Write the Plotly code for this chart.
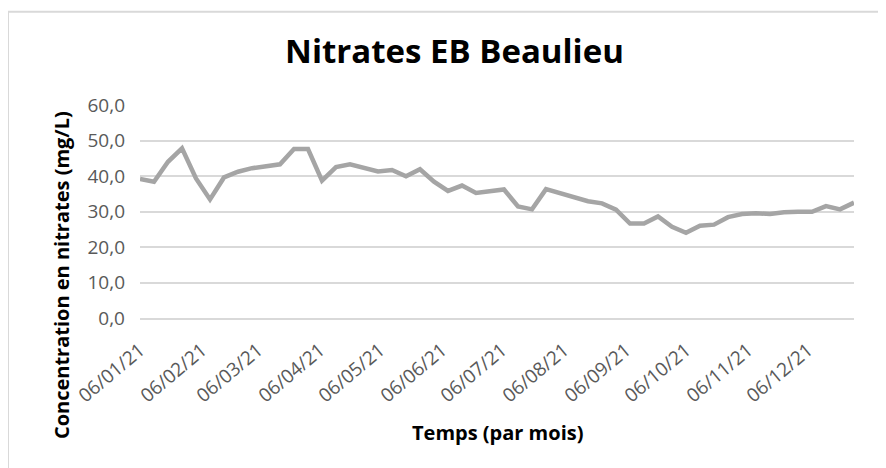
import plotly.graph_objects as go

dates = [
    "2021-01-06", "2021-01-13", "2021-01-20", "2021-01-27",
    "2021-02-03", "2021-02-10", "2021-02-17", "2021-02-24",
    "2021-03-03", "2021-03-10", "2021-03-17", "2021-03-24", "2021-03-31",
    "2021-04-07", "2021-04-14", "2021-04-21", "2021-04-28",
    "2021-05-05", "2021-05-12", "2021-05-19", "2021-05-26",
    "2021-06-02", "2021-06-09", "2021-06-16", "2021-06-23", "2021-06-30",
    "2021-07-07", "2021-07-14", "2021-07-21", "2021-07-28",
    "2021-08-04", "2021-08-11", "2021-08-18", "2021-08-25",
    "2021-09-01", "2021-09-08", "2021-09-15", "2021-09-22", "2021-09-29",
    "2021-10-06", "2021-10-13", "2021-10-20", "2021-10-27",
    "2021-11-03", "2021-11-10", "2021-11-17", "2021-11-24",
    "2021-12-01", "2021-12-08", "2021-12-15", "2021-12-22", "2021-12-29",
]

nitrates = [
    39.2, 38.4, 44.0, 47.8,
    39.3, 33.4, 39.6, 41.2,
    42.2, 42.9, 43.3, 47.6, 47.6,
    38.7, 42.5, 43.3, 42.2,
    41.3, 41.7, 39.9, 41.9,
    38.4, 35.8, 37.3, 35.2, 35.6,
    36.2, 31.4, 30.6, 36.3,
    35.1, 34.1, 32.9, 32.3,
    30.5, 26.6, 26.6, 28.6, 25.7,
    24.0, 26.0, 26.3, 28.4,
    29.3, 29.5, 29.3, 29.8,
    29.9, 29.9, 31.5, 30.6, 32.5,
]

title_text = "Nitrates EB Beaulieu"
y_title = "Concentration en nitrates (mg/L)"
x_title = "Temps (par mois)"

W, H = 886, 468
OFF = 8  # page body margin offset in the screenshot
# target plot area in screen pixels
SX0, SX1, SY0, SY1 = 140, 854, 104.5, 318
L, R = SX0 - OFF, W - (SX1 - OFF)
T, B = SY0 - OFF, H - (SY1 - OFF)
pw, ph = W - L - R, H - T - B


def px(x):
    return (x - OFF - L) / pw


def py(y):
    return (H - B - (y - OFF)) / ph


fig = go.Figure()
fig.add_trace(go.Scatter(
    x=dates, y=nitrates, mode="lines",
    line=dict(color="#a5a5a5", width=4.5),
    hoverinfo="x+y", showlegend=False,
))

FONT = "Open Sans"

fig.update_layout(
    width=W, height=H,
    margin=dict(l=L, r=R, t=T, b=B),
    paper_bgcolor="white", plot_bgcolor="white",
    separators=", ",
    font=dict(family=FONT, color="#595959"),
    title=dict(
        text="<b>" + title_text + "</b>",
        font=dict(family=FONT, size=33, color="black"),
        x=(454.5 - OFF) / W, xref="container", xanchor="center",
        y=1 - (51 - OFF) / H, yref="container", yanchor="middle",
    ),
    xaxis=dict(
        type="date",
        range=["2021-01-06", "2021-12-29"],
        tick0="2021-01-06", dtick="M1", tickformat="%d/%m/%y",
        tickangle=-40,
        tickfont=dict(family=FONT, size=19, color="#595959"),
        showgrid=False, zeroline=False,
        showline=True, linecolor="#d9d9d9", linewidth=1.5,
        ticks="", ticklabelstandoff=12,
    ),
    yaxis=dict(
        range=[0, 60], dtick=10, tick0=0, tickformat=".1f",
        tickfont=dict(family=FONT, size=19, color="#595959"),
        showgrid=True, gridcolor="#d9d9d9", gridwidth=1.5,
        zeroline=True, zerolinecolor="#d9d9d9", zerolinewidth=1.5,
        showline=False, ticks="", ticklabelstandoff=14,
    ),
    annotations=[
        dict(text="<b>" + y_title + "</b>", xref="paper", yref="paper",
             x=px(61), y=py(275), textangle=-90, showarrow=False,
             xanchor="center", yanchor="middle",
             font=dict(family=FONT, size=20, color="black")),
        dict(text="<b>" + x_title + "</b>", xref="paper", yref="paper",
             x=px(497), y=py(433), showarrow=False,
             xanchor="center", yanchor="middle",
             font=dict(family=FONT, size=20, color="black")),
    ],
    shapes=[
        dict(type="rect", xref="paper", yref="paper",
             x0=px(8), x1=px(W + 20), y0=py(H + 20), y1=py(11),
             line=dict(color="#d9d9d9", width=2), fillcolor="rgba(0,0,0,0)",
             layer="below"),
    ],
)

fig.write_html("out.html")
